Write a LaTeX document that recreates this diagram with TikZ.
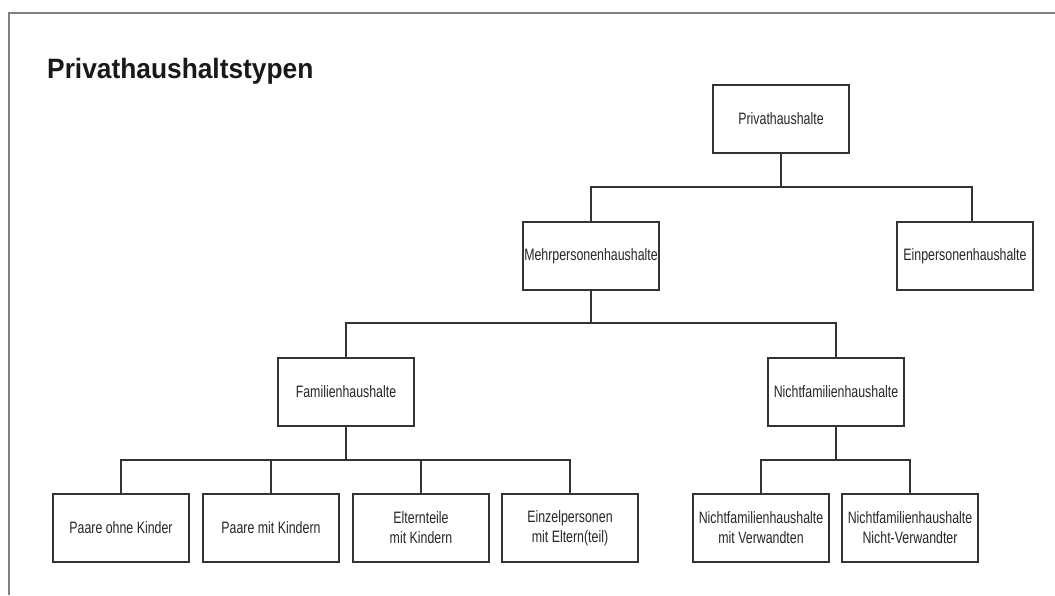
\documentclass[tikz,border=0pt]{standalone}
\usepackage{fontspec}
\setmainfont{Liberation Sans}
\newfontfamily\boxfont[FakeStretch=0.75]{Liberation Sans}
\newfontfamily\headfont[FakeStretch=0.94]{Liberation Sans}
\begin{document}
\begin{tikzpicture}[x=1pt,y=-1pt,
  hhbox/.style={draw=black!80,line width=1.5pt,minimum width=136pt,minimum height=68pt,
    inner sep=0pt,align=center,font=\boxfont\fontsize{16.5}{20}\selectfont,text=black!85},
  link/.style={draw=black!80,line width=1.5pt},
  frameline/.style={draw=black!50,line width=2pt}]
\useasboundingbox (0,0) rectangle (1055,595);
% outer frame (open at right and bottom)
\draw[frameline] (9,595) -- (9,13) -- (1055,13);
% heading
\node[anchor=base west,inner sep=0pt,font=\headfont\bfseries\fontsize{28}{32}\selectfont,text=black!90] (title) at (47,78) {Privathaushaltstypen};
% level 1
\node[hhbox] (root) at (781,119) {Privathaushalte};
% level 2
\node[hhbox] (mehr) at (591,256) {Mehrpersonenhaushalte};
\node[hhbox] (ein) at (965,256) {Einpersonenhaushalte};
% level 3
\node[hhbox] (fam) at (346,392) {Familienhaushalte};
\node[hhbox] (nfam) at (836,392) {Nichtfamilienhaushalte};
% level 4
\node[hhbox] (p1) at (121,528) {Paare ohne Kinder};
\node[hhbox] (p2) at (271,528) {Paare mit Kindern};
\node[hhbox] (p3) at (421,528) {Elternteile\\mit Kindern};
\node[hhbox] (p4) at (570,528) {Einzelpersonen\\mit Eltern(teil)};
\node[hhbox] (n1) at (761,528) {Nichtfamilienhaushalte\\mit Verwandten};
\node[hhbox] (n2) at (910,528) {Nichtfamilienhaushalte\\Nicht-Verwandter};
% bus points
\coordinate (b1) at (781,187);
\coordinate (b2) at (591,323);
\coordinate (b3) at (346,460);
\coordinate (b4) at (836,460);
\coordinate (einTop) at (972,222);
% connectors
\draw[link] (root.south) -- (b1);
\draw[link] (mehr.north) |- (b1) -| (einTop);
\draw[link] (mehr.south) -- (b2);
\draw[link] (fam.north) |- (b2) -| (nfam.north);
\draw[link] (fam.south) -- (b3);
\draw[link] (p1.north) |- (b3) -| (p4.north);
\draw[link] (p2.north) -- (p2.north |- b3);
\draw[link] (p3.north) -- (p3.north |- b3);
\draw[link] (nfam.south) -- (b4);
\draw[link] (n1.north) |- (b4) -| (n2.north);
\end{tikzpicture}
\end{document}
